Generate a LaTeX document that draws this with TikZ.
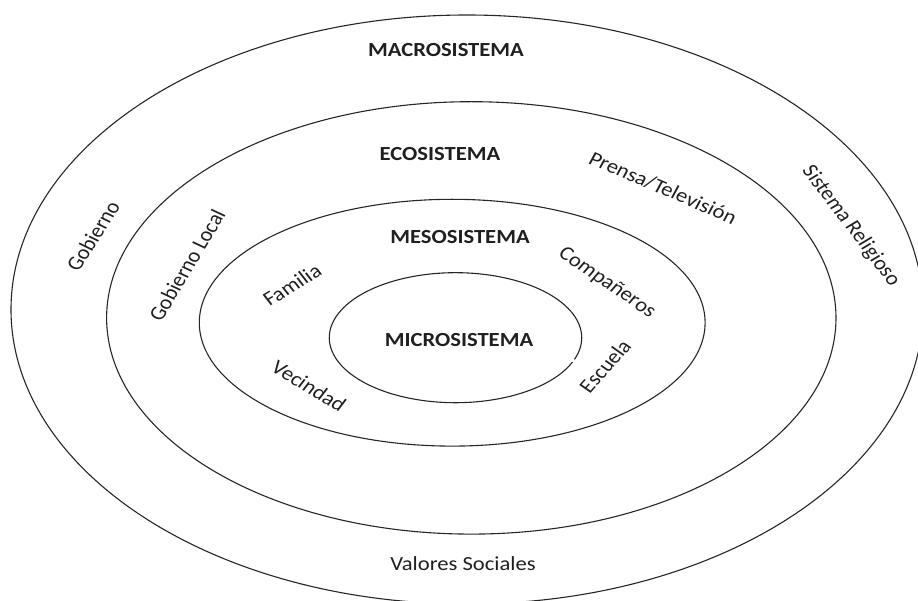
\documentclass[tikz,border=0pt]{standalone}
\usepackage{fontspec}
\setmainfont{Carlito}
\begin{document}
\begin{tikzpicture}[x=1pt,y=-1pt,
  ring/.style={draw=black!85,line width=1.1pt},
  lbl/.style={inner sep=0pt,text=black!88,font=\fontsize{20pt}{24pt}\selectfont,xscale=1.13},
  ttl/.style={lbl,font=\fontsize{20pt}{24pt}\selectfont\bfseries}]
\useasboundingbox (0,0) rectangle (918,601);
% rings
\draw[ring] (467,309.5) ellipse [x radius=456pt, y radius=294.5pt];
\draw[ring] (471.3,317.9) ellipse [x radius=364.7pt, y radius=216.2pt];
\draw[ring] (452.2,322.7) ellipse [x radius=252.9pt, y radius=123.4pt];
\draw[ring] ([shift={(455.5,337.7)}]22:126.2 and 65) arc[start angle=22, end angle=379.5, x radius=126.2, y radius=65];
% titles
\node[ttl] (macro) at (446,50) {MACROSISTEMA};
\node[ttl] (eco) at (440,154) {ECOSISTEMA};
\node[ttl] (meso) at (460,237) {MESOSISTEMA};
\node[ttl] (micro) at (459,340) {MICROSISTEMA};
% labels
\node[lbl] (valores) at (463,564) {Valores Sociales};
\node[lbl,rotate=60.7] (gob) at (93,236) {Gobierno};
\node[lbl,rotate=62] (gobloc) at (187,265) {Gobierno Local};
\node[lbl,rotate=34.5] (fam) at (292,285) {Familia};
\node[lbl,rotate=-34.2] (vec) at (309,386) {Vecindad};
\node[lbl,rotate=-37.3] (comp) at (607,283) {Compañeros};
\node[lbl,rotate=51.5] (esc) at (605,366) {Escuela};
\node[lbl,rotate=-25.6] (prensa) at (663,188) {Prensa/Televisión};
\node[lbl,rotate=-56] (relig) at (851,226) {Sistema Religioso};
\end{tikzpicture}
\end{document}
